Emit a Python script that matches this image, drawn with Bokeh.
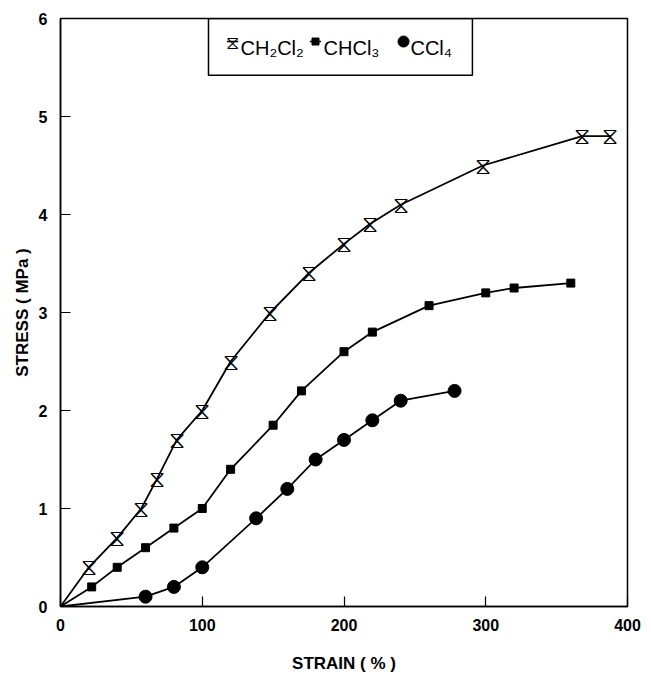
from bokeh.plotting import figure
from bokeh.models import Range1d, FixedTicker, BoxAnnotation, Label
from bokeh.core.properties import value
from bokeh.embed import file_html
from bokeh.resources import INLINE

# ---- data (strain %, stress MPa) ----
ch2cl2_x = [20, 40, 57, 68, 82, 100, 120, 148, 175, 200, 218, 240, 298, 368, 388]
ch2cl2_y = [0.4, 0.7, 1.0, 1.3, 1.7, 2.0, 2.5, 3.0, 3.4, 3.7, 3.9, 4.1, 4.5, 4.8, 4.8]

chcl3_x = [22, 40, 60, 80, 100, 120, 150, 170, 200, 220, 260, 300, 320, 360]
chcl3_y = [0.2, 0.4, 0.6, 0.8, 1.0, 1.4, 1.85, 2.2, 2.6, 2.8, 3.07, 3.2, 3.25, 3.3]

ccl4_x = [60, 80, 100, 138, 160, 180, 200, 220, 240, 278]
ccl4_y = [0.1, 0.2, 0.4, 0.9, 1.2, 1.5, 1.7, 1.9, 2.1, 2.2]

origin = [0]

x_ticks = [0, 100, 200, 300, 400]
y_ticks = [0, 1, 2, 3, 4, 5, 6]

labels = ["CH\u2082Cl\u2082", "CHCl\u2083", "CCl\u2084"]

FONT = "Liberation Sans"

p = figure(width=651, height=676, output_backend="svg", toolbar_location=None,
           x_range=Range1d(0, 400), y_range=Range1d(0, 6),
           min_border_left=60, min_border_right=24, min_border_top=18,
           min_border_bottom=70)

p.xgrid.visible = False
p.ygrid.visible = False
p.outline_line_color = "black"
p.outline_line_width = 1.5
p.background_fill_color = "white"
p.border_fill_color = "white"

for ax in (p.xaxis[0], p.yaxis[0]):
    ax.axis_line_width = 1.5
    ax.axis_line_color = "black"
    ax.major_tick_in = 10
    ax.major_tick_out = 0
    ax.major_tick_line_width = 1.2
    ax.minor_tick_line_color = None
    ax.major_label_text_font = FONT
    ax.major_label_text_font_style = "bold"
    ax.major_label_text_font_size = "16px"
    ax.major_label_text_color = "black"
    ax.axis_label_text_font = FONT
    ax.axis_label_text_font_style = "bold"
    ax.axis_label_text_font_size = "17px"
    ax.axis_label_text_color = "black"

p.xaxis[0].ticker = FixedTicker(ticks=x_ticks)
p.yaxis[0].ticker = FixedTicker(ticks=y_ticks)
p.xaxis[0].axis_label = "STRAIN ( % )"
p.yaxis[0].axis_label = "STRESS ( MPa )"
p.xaxis[0].major_label_standoff = 12
p.xaxis[0].axis_label_standoff = 20
p.yaxis[0].major_label_standoff = 13
p.yaxis[0].axis_label_standoff = 4

# curves (start from origin)
p.line(origin + ch2cl2_x, origin + ch2cl2_y, line_color="black", line_width=1.8)
p.line(origin + chcl3_x, origin + chcl3_y, line_color="black", line_width=1.8)
p.line(origin + ccl4_x, origin + ccl4_y, line_color="black", line_width=1.8)

# markers
p.text(ch2cl2_x, ch2cl2_y, text=value("\u29d6"), text_align="center",
       text_baseline="middle", text_font=value("DejaVu Sans"),
       text_font_size="23px", text_color="black")
p.scatter(chcl3_x, chcl3_y, marker="square", size=8, fill_color="black",
          line_color="black")
p.scatter(ccl4_x, ccl4_y, marker="circle", size=13, fill_color="black",
          line_color="black")

# legend box (manual)
leg_left, leg_right, leg_bottom, leg_top = 104.4, 290.6, 5.42, 6.0
p.add_layout(BoxAnnotation(left=leg_left, right=leg_right, bottom=leg_bottom,
                           top=leg_top, fill_alpha=0, line_color="black",
                           line_width=1.5, line_alpha=1))

mk_y = 5.765
txt_y = 5.694
mk_x = [121.4, 179.9, 242.0]
tx_x = [127.0, 185.6, 246.9]
seg_half = 4.0

# short line stubs through legend markers
for xx in mk_x:
    p.line([xx - seg_half, xx + seg_half], [mk_y, mk_y], line_color="black",
           line_width=1.5)

p.text([mk_x[0]], [mk_y], text=value("\u29d6"), text_align="center",
       text_baseline="middle", text_font=value("DejaVu Sans"),
       text_font_size="19px", text_color="black")
p.scatter([mk_x[1]], [mk_y], marker="square", size=7, fill_color="black",
          line_color="black")
p.scatter([mk_x[2]], [mk_y], marker="circle", size=11, fill_color="black",
          line_color="black")

for xx, lab in zip(tx_x, labels):
    p.add_layout(Label(x=xx, y=txt_y, text=lab, text_font=FONT,
                       text_font_size="20px", text_color="black",
                       text_baseline="alphabetic", text_align="left"))

open("out.html", "w").write(file_html(p, INLINE))
